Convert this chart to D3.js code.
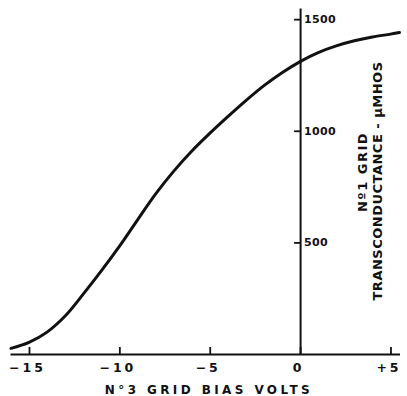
<!DOCTYPE html>
<html>
<head>
<meta charset="utf-8">
<script src="https://cdn.jsdelivr.net/npm/d3@7"></script>
<style>
  body { margin: 0; background: #fff; }
  svg text { font-family: "DejaVu Sans", sans-serif; font-weight: bold; fill: #111; }
</style>
</head>
<body>
<div id="chart"></div>
<script>
// No.1 grid transconductance vs No.3 grid bias

// values
const biasVolts = [-16, -15, -14, -13, -12, -11, -10, -9, -8, -7, -6, -5, -4, -3, -2, -1, 0, 1, 2, 3, 4, 5, 5.5];
const gmMicromhos = [25, 52, 98, 170, 268, 372, 482, 600, 716, 818, 908, 988, 1063, 1135, 1202, 1260, 1310, 1350, 1380, 1403, 1420, 1433, 1440];

const xTicks = [-15, -10, -5, 0, 5];
const xTickLabels = ["\u221215", "\u221210", "\u22125", "0", "+5"];
const yTicks = [500, 1000, 1500];

const width = 407, height = 396;

const svg = d3.select("#chart")
    .append("svg")
    .attr("width", width)
    .attr("height", height);

const x = d3.scaleLinear()
    .domain([-16.05, 5.5])
    .range([10, 399.5]);

const y = d3.scaleLinear()
    .domain([0, 1550])
    .range([354, 8]);

// x axis: ticks point up, labels below
const xAxis = svg.append("g")
    .attr("transform", `translate(0, ${y(0)})`)
    .call(d3.axisBottom(x)
        .tickValues(xTicks)
        .tickFormat((d, i) => xTickLabels[i])
        .tickSizeInner(-7)
        .tickSizeOuter(0)
        .tickPadding(9));
xAxis.select(".domain").attr("stroke", "#111").attr("stroke-width", 2);
xAxis.selectAll(".tick line").attr("stroke", "#111").attr("stroke-width", 1.8);
xAxis.selectAll("text")
    .attr("dx", "-2px")
    .style("font-size", "12.5px")
    .style("letter-spacing", "3px");

// y axis sits on zero bias: ticks to the left, labels to the right
const yAxis = svg.append("g")
    .attr("transform", `translate(${x(0)}, 0)`)
    .call(d3.axisRight(y)
        .tickValues(yTicks)
        .tickFormat(d3.format("d"))
        .tickSizeInner(-6)
        .tickSizeOuter(0)
        .tickPadding(4));
yAxis.select(".domain").attr("stroke", "#111").attr("stroke-width", 2);
yAxis.selectAll(".tick line").attr("stroke", "#111").attr("stroke-width", 1.8);
yAxis.selectAll("text")
    .style("font-size", "11px")
    .style("letter-spacing", "0.3px");

// the curve
const line = d3.line()
    .x((d, i) => x(biasVolts[i]))
    .y(d => y(d))
    .curve(d3.curveCatmullRom);

svg.append("path")
    .datum(gmMicromhos)
    .attr("fill", "none")
    .attr("stroke", "#111")
    .attr("stroke-width", 3)
    .attr("stroke-linecap", "round")
    .attr("d", line);

// x axis title
svg.append("text")
    .attr("x", 209)
    .attr("y", 394)
    .attr("text-anchor", "middle")
    .style("font-size", "12px")
    .style("letter-spacing", "3.4px")
    .text("N\u00b03 GRID BIAS VOLTS");

// y axis title, two rotated lines
svg.append("text")
    .attr("transform", "translate(367, 172) rotate(-90)")
    .attr("text-anchor", "middle")
    .style("font-size", "13px")
    .style("letter-spacing", "1.5px")
    .text("N\u00ba1 GRID");

svg.append("text")
    .attr("transform", "translate(382, 181) rotate(-90)")
    .attr("text-anchor", "middle")
    .style("font-size", "13px")
    .style("letter-spacing", "0.5px")
    .text("TRANSCONDUCTANCE - \u03bcMHOS");
</script>
</body>
</html>
